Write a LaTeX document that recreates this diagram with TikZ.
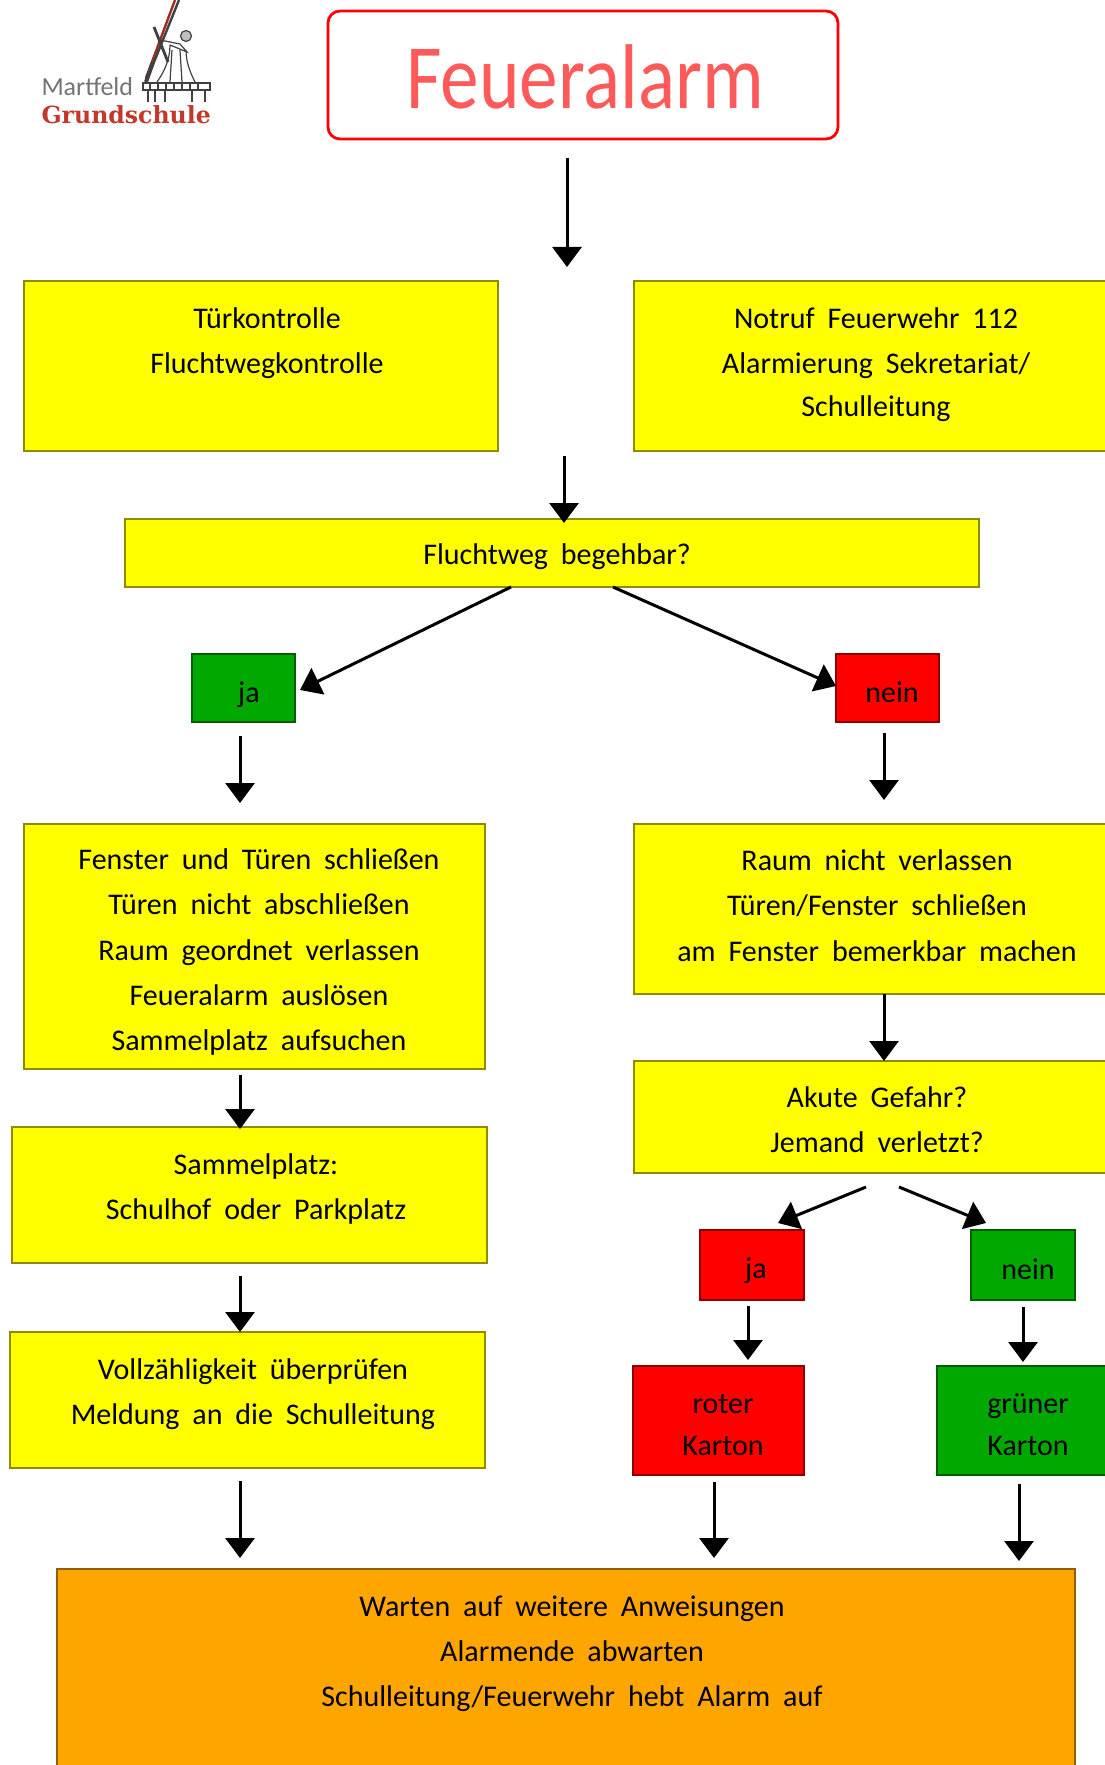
\documentclass[tikz,border=0pt]{standalone}
\usepackage{fontspec}
\usepackage{tikz}
\usetikzlibrary{arrows.meta}
\setmainfont{Carlito}[WordSpace=1.9]
\newfontfamily\logofont{DejaVu Serif}
\definecolor{boxyellow}{HTML}{FFFF00}
\definecolor{edgeyellow}{HTML}{8F8B00}
\definecolor{boxred}{HTML}{FF0000}
\definecolor{edgered}{HTML}{8F0000}
\definecolor{boxgreen}{HTML}{00A800}
\definecolor{edgegreen}{HTML}{006000}
\definecolor{boxorange}{HTML}{FFA500}
\definecolor{edgeorange}{HTML}{8F5E00}
\definecolor{titlered}{HTML}{FF5A5A}
\definecolor{logored}{HTML}{C0392B}

\begin{document}
\begin{tikzpicture}[x=0.5pt, y=-0.5pt, ->, >={Triangle[length=10pt, width=14.5pt]},
                    line width=1.5pt]
    \tikzstyle{flow}=[draw, line width=1.4pt, outer sep=0pt, inner sep=0pt]
    \tikzstyle{yellowbox}=[flow, fill=boxyellow, draw=edgeyellow]
    \tikzstyle{redbox}=[flow, fill=boxred, draw=edgered]
    \tikzstyle{greenbox}=[flow, fill=boxgreen, draw=edgegreen]
    \tikzstyle{orangebox}=[flow, fill=boxorange, draw=edgeorange]
    \tikzstyle{words}=[align=center, font=\fontsize{15}{22.6}\selectfont, text=black]
    \tikzstyle{mill}=[-, line width=0.6pt, draw=black!75]

    \useasboundingbox (0,0) rectangle (1104,1765);

    \draw[mill, line width=1.2pt, draw=logored!80!black] (175,0) -- (146,78);
    \draw[mill, line width=1.2pt] (179,0) -- (146,82);
    \draw[mill, line width=2pt] (146,82) -- (153,62);
    \draw[mill, line width=1.4pt] (154,27) -- (168,62);
    \draw[mill] (170,45) .. controls (170,60) and (164,72) .. (157,82)
                (186,50) .. controls (186,62) and (190,72) .. (195,82)
                (160,40) -- (180,44) -- (187,52) -- (170,45)
                (172,50) -- (170,82) (180,50) -- (182,82);
    \draw[mill, fill=black!25] (186,36) circle (5.5);
    \draw[mill] (143,83) rectangle (210,90);
    \draw[mill] (150,83) -- (150,90) (158,83) -- (158,90) (166,83) -- (166,90)
                (174,83) -- (174,90) (182,83) -- (182,90) (190,83) -- (190,90)
                (198,83) -- (198,90);
    \draw[mill] (148,90) -- (148,102) (155,90) -- (155,102) (165,90) -- (165,102)
                (192,90) -- (192,102) (205,90) -- (205,102);
    \node[text=black!55, font=\fontsize{13}{13}\selectfont, anchor=west, inner sep=0pt]
        (martfeld) at (40,87) {Martfeld};
    \node[text=logored, font=\fontsize{11.8}{13}\logofont\bfseries, anchor=west, inner sep=0pt]
        (schule)   at (40,115) {Grundschule};

    \node[flow, fill=white, draw=red, rounded corners=6pt, minimum width=255pt,
          minimum height=64pt] (title) at (583,75) {};
    \node[text=titlered, font=\fontsize{46}{46}\selectfont, xscale=0.84, transform shape]
        (titletext) at (585,77) {Feueralarm};

    \node[yellowbox, minimum width=237pt, minimum height=85pt]     (turk)    at (261,366)  {};
    \node[yellowbox, minimum width=237pt, minimum height=85pt]     (notruf)  at (871,366)  {};
    \node[yellowbox, minimum width=427pt, minimum height=34pt]     (flucht)  at (552,553)  {};
    \node[greenbox,  minimum width=51.5pt, minimum height=34pt]    (jaleft)  at (243.5,688) {};
    \node[redbox,    minimum width=51.5pt, minimum height=34pt]    (neinright) at (887.5,688) {};
    \node[yellowbox, minimum width=230.5pt, minimum height=122.5pt] (fenster) at (254.5,946.5) {};
    \node[yellowbox, minimum width=237pt, minimum height=85pt]     (raum)    at (871,909)  {};
    \node[yellowbox, minimum width=237.5pt, minimum height=68pt]   (sammel)  at (249.5,1195) {};
    \node[yellowbox, minimum width=237pt, minimum height=56pt]     (akute)   at (871,1117) {};
    \node[redbox,    minimum width=52pt, minimum height=35pt]      (jared)   at (752,1265) {};
    \node[greenbox,  minimum width=52pt, minimum height=35pt]      (neingreen) at (1023,1265) {};
    \node[redbox,    minimum width=85.5pt, minimum height=54.5pt]  (roter)   at (718.5,1420.5) {};
    \node[greenbox,  minimum width=85.5pt, minimum height=54.5pt]  (gruener) at (1022.5,1420.5) {};
    \node[yellowbox, minimum width=237.5pt, minimum height=68pt]   (voll)    at (247.5,1400) {};
    \node[orangebox, minimum width=509pt, minimum height=120.5pt]  (warten)  at (566,1689.5) {};

    \node[words] (turktext)    at (267,343.5) {Türkontrolle\\Fluchtwegkontrolle};
    \node[words] (notruftext)  at (876,364.5) {Notruf Feuerwehr 112\\Alarmierung Sekretariat/\\[-1pt]Schulleitung};
    \node[words] (fluchttext)  at (557,557)  {Fluchtweg begehbar?};
    \node[words] (jalefttext)  at (249,695)  {ja};
    \node[words] (neintext)    at (892,692)  {nein};
    \node[words] (fenstertext) at (259,952)  {Fenster und Türen schließen\\Türen nicht abschließen\\Raum geordnet verlassen\\Feueralarm auslösen\\Sammelplatz aufsuchen};
    \node[words] (raumtext)    at (877,905.5) {Raum nicht verlassen\\Türen/Fenster schließen\\am Fenster bemerkbar machen};
    \node[words] (sammeltext)  at (256,1189) {Sammelplatz:\\Schulhof oder Parkplatz};
    \node[words] (akutetext)   at (877,1120) {Akute Gefahr?\\Jemand verletzt?};
    \node[words] (vollztext)   at (253,1394) {Vollzähligkeit überprüfen\\Meldung an die Schulleitung};
    \node[words] (jaredtext)   at (756,1271) {ja};
    \node[words] (neingrtext)  at (1028,1269) {nein};
    \node[words] (rotertext)   at (723,1425) {roter\\[-1.5pt]Karton};
    \node[words] (gruentext)   at (1028,1425) {grüner\\[-1.5pt]Karton};
    \node[words] (wartentext)  at (572,1653.5) {Warten auf weitere Anweisungen\\Alarmende abwarten\\Schulleitung/Feuerwehr hebt Alarm auf};

    \coordinate (titleout)  at (567,158);
    \coordinate (titlein)   at (567,267);
    \coordinate (turkout)   at (564,456);
    \coordinate (fluchtin)  at (564,523);
    \coordinate (fluchtl)   at (511,587);
    \coordinate (fluchtr)   at (613,587);
    \coordinate (jaleftin)  at (300,690);
    \coordinate (neinin)    at (836,686);
    \coordinate (jaleftout) at (240,736);
    \coordinate (fensterin) at (240,803);
    \coordinate (neinout)   at (884,733);
    \coordinate (raumin)    at (884,800);
    \coordinate (raumout)   at (884,994);
    \coordinate (akutein)   at (884,1061);
    \coordinate (fensterout) at (240,1075);
    \coordinate (sammelin)  at (240,1129);
    \coordinate (sammelout) at (240,1276);
    \coordinate (vollin)    at (240,1332);
    \coordinate (vollout)   at (240,1481);
    \coordinate (wartenl)   at (240,1558);
    \coordinate (akutel)    at (866,1187);
    \coordinate (akuter)    at (899,1187);
    \coordinate (jaredin)   at (778,1223);
    \coordinate (neingrin)  at (986,1223);
    \coordinate (jaredout)  at (748,1306);
    \coordinate (roterin)   at (748,1360);
    \coordinate (neingrout) at (1023,1307);
    \coordinate (gruenin)   at (1023,1362);
    \coordinate (roterout)  at (714,1482);
    \coordinate (wartenm)   at (714,1558);
    \coordinate (gruenout)  at (1019,1484);
    \coordinate (wartenr)   at (1019,1561);

    \path (titleout)   edge (titlein);
    \path (turkout)    edge (fluchtin);
    \path (fluchtl)    edge (jaleftin);
    \path (fluchtr)    edge (neinin);
    \path (jaleftout)  edge (fensterin);
    \path (neinout)    edge (raumin);
    \path (raumout)    edge (akutein);
    \path (fensterout) edge (sammelin);
    \path (sammelout)  edge (vollin);
    \path (vollout)    edge (wartenl);
    \path (akutel)     edge (jaredin);
    \path (akuter)     edge (neingrin);
    \path (jaredout)   edge (roterin);
    \path (neingrout)  edge (gruenin);
    \path (roterout)   edge (wartenm);
    \path (gruenout)   edge (wartenr);
\end{tikzpicture}
\end{document}
